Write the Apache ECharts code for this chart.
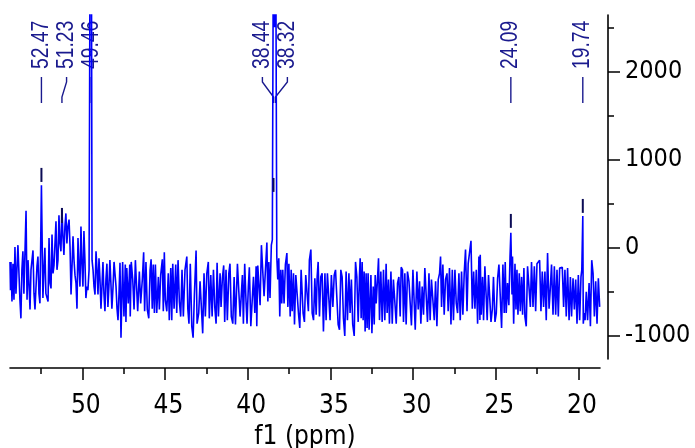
<!DOCTYPE html>
<html><head><meta charset="utf-8">
<script src="https://cdn.jsdelivr.net/npm/echarts@6/dist/echarts.min.js"></script>
<style>html,body{margin:0;padding:0;background:#fff}#c{width:695px;height:448px}</style>
</head><body><div id="c"></div>
<script>
// [chemical shift (ppm), intensity]
const spectrum = [
[54.37,-160],[54.34,-480],[54.31,-160],[54.25,-610],[54.19,-180],[54.13,-590],[54.07,10],[54.01,-520],[53.89,30],[53.77,-590],[53.71,-800],[53.65,-250],[53.59,-40],[53.53,-520],[53.40,420],[53.34,-590],[53.28,-140],[53.16,-700],[53.10,-250],[52.98,-30],[52.92,-520],[52.86,-700],[52.74,-210],[52.68,-100],[52.62,-520],[52.56,-630],[52.47,710],[52.38,-570],[52.32,-250],[52.26,0],[52.20,-520],[52.07,-610],[52.01,110],[51.95,-400],[51.89,-460],[51.83,150],[51.77,-290],[51.71,-200],[51.59,300],[51.53,-250],[51.47,-140],[51.41,370],[51.35,50],[51.29,-40],[51.23,450],[51.17,130],[51.11,-80],[51.05,240],[50.99,390],[50.93,50],[50.87,240],[50.80,320],[50.74,10],[50.68,-530],[50.62,-210],[50.56,130],[50.50,-140],[50.44,-310],[50.38,-400],[50.32,-690],[50.26,110],[50.20,-210],[50.14,-440],[50.08,240],[50.02,-180],[49.96,-440],[49.90,190],[49.84,-140],[49.78,-570],[49.72,-440],[49.66,-480],[49.59,-250],[49.53,-230],[49.48,6500],[49.45,6500],[49.41,-140],[49.35,-250],[49.29,-440],[49.23,-530],[49.17,-40],[49.11,-250],[49.05,-530],[48.99,-120],[48.93,-360],[48.87,-690],[48.81,-440],[48.75,-160],[48.69,-520],[48.63,-720],[48.57,-360],[48.51,-180],[48.45,-670],[48.39,-440],[48.33,-140],[48.27,-400],[48.21,-690],[48.14,-440],[48.08,-160],[48.02,-140],[47.96,-440],[47.90,-690],[47.84,-820],[47.78,-520],
[47.72,-170],[47.66,-1020],[47.56,-160],[47.48,-780],[47.40,-190],[47.36,-840],[47.31,-230],[47.22,-630],[47.13,-190],[47.10,-780],[47.04,-160],[46.95,-360],[46.87,-700],[46.79,-140],[46.71,-140],[46.65,-720],[46.55,-270],[46.47,-630],[46.37,-360],[46.29,-50],[46.23,-720],[46.15,-160],[46.07,-700],[45.98,-800],[45.90,-250],[45.84,-130],[45.77,-690],[45.71,-190],[45.64,-740],[45.58,-190],[45.50,-740],[45.40,-330],[45.34,-700],[45.26,-310],[45.16,-130],[45.10,-720],[45.04,-50],[44.98,-590],[44.89,-720],[44.80,-290],[44.74,-820],[44.65,-230],[44.59,-820],[44.53,-180],[44.45,-690],[44.35,-190],[44.29,-740],[44.21,-140],[44.13,-610],[44.05,-780],[43.97,-250],[43.89,-780],[43.79,-250],[43.68,-100],[43.62,-690],[43.55,-860],[43.47,-180],[43.38,-890],[43.30,-1020],[43.22,-520],[43.12,-30],[43.06,-860],[42.96,-740],[42.88,-380],[42.80,-360],[42.72,-970],[42.64,-290],[42.56,-780],[42.47,-290],[42.38,-160],[42.32,-800],[42.23,-310],[42.15,-780],[42.07,-250],[41.99,-670],[41.91,-860],[41.85,-170],[41.77,-780],[41.67,-290],[41.61,-670],[41.53,-345],[41.45,-200],[41.39,-840],[41.31,-250],[41.23,-820],[41.14,-290],[41.07,-180],[40.99,-780],[40.90,-860],[40.82,-330],[40.74,-870],[40.62,-180],[40.54,-190],[40.46,-780],
[40.32,-310],[40.26,-860],[40.18,-180],[40.10,-610],[40.04,-860],[39.96,-440],[39.90,-220],[39.81,-890],[39.73,-870],[39.65,-330],[39.57,-740],[39.49,-210],[39.45,-890],[39.39,-200],[39.31,-190],[39.25,-650],[39.17,30],[39.09,30],[39.01,-550],[38.93,-550],[38.84,60],[38.78,-610],[38.72,-160],[38.65,-570],[38.57,30],[38.51,90],[38.44,4000],[38.38,2500],[38.32,4500],[38.24,-100],[38.18,-360],[38.12,-120],[38.06,-780],[38.00,-250],[37.94,-630],[37.88,-250],[37.80,-630],[37.72,-190],[37.63,-60],[37.57,-670],[37.51,-180],[37.43,-780],[37.37,-250],[37.31,-720],[37.23,-290],[37.17,-870],[37.09,-310],[37.01,-310],[36.93,-740],[36.85,-910],[36.77,-250],[36.71,-250],[36.65,-740],[36.57,-840],[36.49,-310],[36.41,-290],[36.33,-720],[36.27,-140],[36.18,-20],[36.10,-740],[36.02,-820],[35.94,-345],[35.86,-760],[35.80,-330],[35.74,-160],[35.66,-780],[35.58,-330],[35.50,-290],[35.42,-950],[35.33,-290],[35.26,-820],[35.18,-290],[35.09,-290],[35.02,-820],[34.94,-310],[34.85,-670],[34.77,-310],[34.69,-250],[34.61,-250],[34.53,-870],[34.45,-930],[34.37,-250],[34.29,-330],[34.21,-800],[34.13,-1000],[34.05,-270],[33.97,-820],[33.88,-290],[33.81,-740],[33.73,-360],[33.65,-870],[33.56,-1000],[33.48,-160],[33.40,-330],[33.32,-840],[33.24,-310],
[33.20,-120],[33.14,-800],[33.08,-160],[33.02,-820],[32.96,-270],[32.90,-950],[32.84,-290],[32.78,-910],[32.72,-290],[32.66,-930],[32.55,-310],[32.49,-970],[32.41,-440],[32.35,-870],[32.29,-310],[32.23,-630],[32.15,-345],[32.09,-120],[32.03,-820],[31.95,-270],[31.87,-840],[31.79,-250],[31.71,-820],[31.63,-180],[31.57,-740],[31.49,-360],[31.43,-860],[31.34,-270],[31.26,-860],[31.19,-360],[31.10,-360],[31.02,-860],[30.94,-400],[30.86,-330],[30.78,-780],[30.72,-220],[30.64,-250],[30.58,-840],[30.50,-290],[30.42,-870],[30.34,-270],[30.25,-380],[30.18,-400],[30.10,-880],[30.01,-250],[29.93,-230],[29.87,-930],[29.77,-270],[29.69,-700],[29.61,-380],[29.53,-860],[29.45,-440],[29.37,-760],[29.29,-230],[29.21,-250],[29.13,-840],[29.04,-290],[28.97,-820],[28.89,-360],[28.80,-360],[28.72,-820],[28.64,-380],[28.56,-890],[28.48,-360],[28.40,-290],[28.34,-100],[28.28,-670],[28.20,-190],[28.12,-760],[28.04,-360],[27.95,-290],[27.88,-720],[27.80,-230],[27.71,-870],[27.63,-250],[27.56,-820],[27.47,-250],[27.39,-630],[27.31,-740],[27.23,-290],[27.15,-820],[27.07,-270],[26.99,-760],[26.91,-290],[26.83,-20],[26.74,-720],[26.67,-180],[26.59,-160],[26.50,80],[26.42,-690],[26.34,-270],[26.26,-690],[26.18,-250],[26.10,-860],[26.02,-100],[25.96,-820],
[25.94,-80],[25.88,-760],[25.80,-330],[25.74,-820],[25.66,-210],[25.58,-190],[25.52,-820],[25.44,-310],[25.35,-330],[25.29,-840],[25.21,-700],[25.14,-330],[25.05,-840],[24.97,-740],[24.89,-345],[24.81,-190],[24.73,-190],[24.65,-910],[24.57,-190],[24.49,-740],[24.43,-160],[24.37,-740],[24.29,-400],[24.21,-650],[24.14,-100],[24.09,170],[24.02,-530],[23.99,-100],[23.92,-860],[23.84,-180],[23.78,-700],[23.72,-250],[23.66,-760],[23.58,-290],[23.52,-720],[23.44,-330],[23.38,-760],[23.30,-230],[23.24,-780],[23.16,-890],[23.08,-210],[23.00,-230],[22.91,-670],[22.84,-160],[22.75,-670],[22.67,-210],[22.59,-720],[22.51,-180],[22.43,-160],[22.35,-140],[22.27,-720],[22.19,-270],[22.11,-670],[22.03,-270],[21.95,-820],[21.87,-60],[21.78,-690],[21.71,-480],[21.63,-190],[21.54,-760],[21.46,-210],[21.38,-760],[21.30,-250],[21.22,-780],[21.14,-230],[21.06,-210],[20.98,-220],[20.90,-670],[20.82,-250],[20.74,-780],[20.66,-230],[20.57,-820],[20.49,-330],[20.42,-780],[20.33,-345],[20.25,-700],[20.17,-360],[20.09,-860],[20.01,-310],[19.93,-820],[19.85,-330],[19.80,-250],[19.74,360],[19.71,-860],[19.66,-740],[19.60,-820],[19.53,-500],[19.45,-820],[19.36,-400],[19.28,-890],[19.20,-140],[19.12,-290],[19.04,-780],[18.96,-380],[18.88,-860],[18.80,-345],[18.72,-670]
];

const peakShifts      = [52.47, 51.23, 49.46, 38.44, 38.32, 24.09, 19.74];
const peakLabelShifts = [52.47, 50.95, 49.46, 39.11, 37.60, 24.09, 19.74];
const peakTexts       = ['52.47', '51.23', '49.46', '38.44', '38.32', '24.09', '19.74'];

const markerShifts  = [52.47, 51.23, 38.44, 24.09, 19.74];
const markerTops    = [906, 452, 792, 384, 554];
const markerBottoms = [747, 282, 634, 226, 396];

const xMajorTicks = [20, 25, 30, 35, 40, 45, 50];
const xMinorTicks = [22.5, 27.5, 32.5, 37.5, 42.5, 47.5, 52.5];
const yMajorTicks = [-1000, 0, 1000, 2000];
const yMinorTicks = [-500, 500, 1500, 2500];
const xRange = [18.70, 54.37];
const yRange = [-1261, 2640];

const AX_FONT = '"DejaVu Sans Condensed", "DejaVu Sans", sans-serif';
const LABEL_COLOR = '#1a1a8e';

const chart = echarts.init(document.getElementById('c'), null, {renderer: 'canvas'});

function xAxisDef(ticks, len, withLabels, withLine) {
  return {
    type: 'value', inverse: true, min: xRange[0], max: xRange[1],
    position: 'bottom', offset: 9,
    axisLine: {show: withLine, onZero: false, lineStyle: {color: '#000', width: 1.6}},
    axisTick: {show: true, length: len, customValues: ticks, lineStyle: {color: '#000', width: 1.5}},
    axisLabel: withLabels ? {show: true, customValues: ticks, margin: 25, color: '#000',
      fontFamily: AX_FONT, fontSize: 26, padding: [0, 0, 0, 7],
      formatter: v => String(v)} : {show: false},
    splitLine: {show: false},
    name: withLabels ? 'f1 (ppm)' : '', nameLocation: 'middle', nameGap: 53,
    nameTextStyle: {color: '#000', fontFamily: AX_FONT, fontSize: 26}
  };
}
function yAxisDef(ticks, len, withLabels, withLine) {
  return {
    type: 'value', min: yRange[0], max: yRange[1],
    position: 'right', offset: 8,
    axisLine: {show: withLine, onZero: false, lineStyle: {color: '#000', width: 1.6}},
    axisTick: {show: true, length: len, customValues: ticks, lineStyle: {color: '#000', width: 1.5}},
    axisLabel: withLabels ? {show: true, customValues: ticks, margin: 17, color: '#000',
      fontFamily: AX_FONT, fontSize: 25, formatter: v => String(v)} : {show: false},
    splitLine: {show: false}
  };
}

chart.setOption({
  animation: false,
  backgroundColor: '#fff',
  grid: {left: 10, right: 95, top: 15, bottom: 89, containLabel: false, outerBoundsMode: 'none'},
  xAxis: [xAxisDef(xMajorTicks, 12, true, true), xAxisDef(xMinorTicks, 6, false, false)],
  yAxis: [yAxisDef(yMajorTicks, 12, true, true), yAxisDef(yMinorTicks, 6, false, false)],
  series: [
    {
      type: 'custom', z: 2, xAxisIndex: 0, yAxisIndex: 0,
      data: peakLabelShifts.map((s, i) => [s, peakShifts[i]]),
      encode: {x: 0},
      renderItem: function (params, api) {
        const t = params.coordSys.y;
        const lx = api.coord([api.value(0), 0])[0];
        const px = api.coord([api.value(1), 0])[0];
        return {type: 'group', children: [
          {type: 'text', x: lx, y: t + 54, rotation: Math.PI / 2, scaleX: 0.84, scaleY: 1,
            style: {text: peakTexts[params.dataIndex], fill: LABEL_COLOR,
              font: '23px "Liberation Sans", Arial, sans-serif',
              align: 'left', verticalAlign: 'middle'}},
          {type: 'polyline', shape: {points: [[lx, t + 62], [lx, t + 67], [px, t + 82], [px, t + 88]]},
            style: {stroke: LABEL_COLOR, lineWidth: 1.4, fill: null}}
        ]};
      }
    },
    {
      type: 'line', z: 3, xAxisIndex: 0, yAxisIndex: 0,
      data: spectrum, showSymbol: false, symbol: 'none', clip: true,
      sampling: null,
      lineStyle: {color: '#0000ff', width: 1.6},
      itemStyle: {color: '#0000ff'}
    },
    {
      type: 'custom', z: 4, xAxisIndex: 0, yAxisIndex: 0,
      data: markerShifts.map((s, i) => [s, markerTops[i], markerBottoms[i]]),
      encode: {x: 0, y: [1, 2]},
      renderItem: function (params, api) {
        const p1 = api.coord([api.value(0), api.value(1)]);
        const p2 = api.coord([api.value(0), api.value(2)]);
        return {type: 'line', shape: {x1: p1[0], y1: p1[1], x2: p2[0], y2: p2[1]},
          style: {stroke: '#0b0b55', lineWidth: 2}};
      }
    }
  ]
});
</script>
</body></html>
